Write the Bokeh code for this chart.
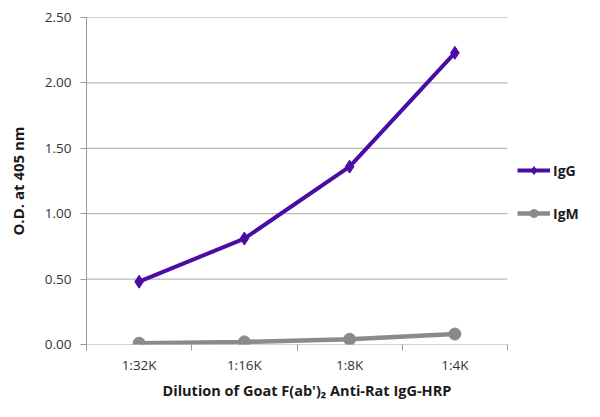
from bokeh.plotting import figure
from bokeh.models import (ColumnDataSource, FixedTicker, NumeralTickFormatter,
                          Range1d, Legend, LegendItem, Title)
from bokeh.embed import file_html
from bokeh.resources import INLINE

categories = ["1:32K", "1:16K", "1:8K", "1:4K"]
igg = [0.48, 0.81, 1.36, 2.23]
igm = [0.01, 0.02, 0.04, 0.08]
y_ticks = [0.0, 0.5, 1.0, 1.5, 2.0, 2.5]

FONT = "Open Sans"
TXT = "#333333"
PURPLE = "#4b0ca6"
GRAY = "#8a8a8a"
GRID = "#a6a6a6"

W, H = 600, 417
LEFT, RIGHT_PLOT, TOP, BOTTOM = 86, 507, 17, 344
n = len(categories)
x_end = n * (W - LEFT) / (RIGHT_PLOT - LEFT)   # frame extends right to host the legend

xpos = [i + 0.5 for i in range(n)]
src = ColumnDataSource(dict(x=xpos, igg=igg, igm=igm))
grid_src = ColumnDataSource(dict(y=y_ticks, x0=[0] * len(y_ticks), x1=[n] * len(y_ticks)))

p = figure(width=W, height=H, output_backend="svg", toolbar_location=None,
           x_range=Range1d(0, x_end), y_range=Range1d(0, 2.5),
           min_border_left=LEFT, min_border_right=0, min_border_top=TOP,
           min_border_bottom=H - BOTTOM)
p.outline_line_color = None
p.background_fill_color = "white"
p.border_fill_color = "white"

# horizontal grid lines, stopping at the last category boundary
p.segment(x0="x0", x1="x1", y0="y", y1="y", source=grid_src,
          line_color=GRID, line_width=1)

# x axis
p.xaxis.ticker = FixedTicker(ticks=xpos, minor_ticks=list(range(n + 1)))
p.xaxis.major_label_overrides = {x: c for x, c in zip(xpos, categories)}
p.xaxis.major_tick_line_color = None
p.xaxis.minor_tick_in = 0
p.xaxis.minor_tick_out = 6
p.xaxis.minor_tick_line_color = "#999999"
p.xaxis.axis_line_color = None
p.xaxis.major_label_text_font = FONT
p.xaxis.major_label_text_font_size = "13.5px"
p.xaxis.major_label_text_color = TXT
p.xaxis.major_label_standoff = 5
p.xgrid.grid_line_color = None
p.ygrid.grid_line_color = None

# x axis title, centred under the category area (not the whole frame)
xtitle = Title(text="Dilution of Goat F(ab')\u2082 Anti-Rat IgG-HRP",
               align="left", offset=76, standoff=4,
               text_font=FONT, text_font_style="bold",
               text_font_size="14.5px", text_color="#1a1a1a")
p.add_layout(xtitle, "below")

# y axis
p.yaxis.ticker = FixedTicker(ticks=y_ticks, minor_ticks=[])
p.yaxis.formatter = NumeralTickFormatter(format="0.00")
p.yaxis.major_tick_in = 0
p.yaxis.major_tick_out = 6
p.yaxis.major_tick_line_color = "#999999"
p.yaxis.axis_line_color = "#999999"
p.yaxis.major_label_text_font = FONT
p.yaxis.major_label_text_font_size = "13.5px"
p.yaxis.major_label_text_color = TXT
p.yaxis.major_label_standoff = 9
p.yaxis.axis_label = "O.D. at 405 nm"
p.yaxis.axis_label_text_font = FONT
p.yaxis.axis_label_text_font_style = "bold"
p.yaxis.axis_label_text_font_size = "15px"
p.yaxis.axis_label_text_color = "#1a1a1a"
p.yaxis.axis_label_standoff = 14

l1 = p.line("x", "igg", source=src, line_color=PURPLE, line_width=4)
m1 = p.scatter("x", "igg", source=src, marker="diamond", size=13,
               fill_color=PURPLE, line_color=PURPLE)
l2 = p.line("x", "igm", source=src, line_color=GRAY, line_width=4.5)
m2 = p.scatter("x", "igm", source=src, marker="circle", size=12,
               fill_color=GRAY, line_color=GRAY)

legend = Legend(items=[LegendItem(label="IgG", renderers=[l1, m1]),
                       LegendItem(label="IgM", renderers=[l2, m2])],
                location=(431, 121), orientation="vertical",
                border_line_color=None, background_fill_alpha=0,
                padding=0, margin=0, spacing=23, glyph_width=33,
                glyph_height=20, label_standoff=3,
                label_text_font=FONT, label_text_font_style="bold",
                label_text_font_size="14px", label_text_color="#1a1a1a")
p.add_layout(legend, "center")

open("out.html", "w").write(file_html(p, INLINE))
